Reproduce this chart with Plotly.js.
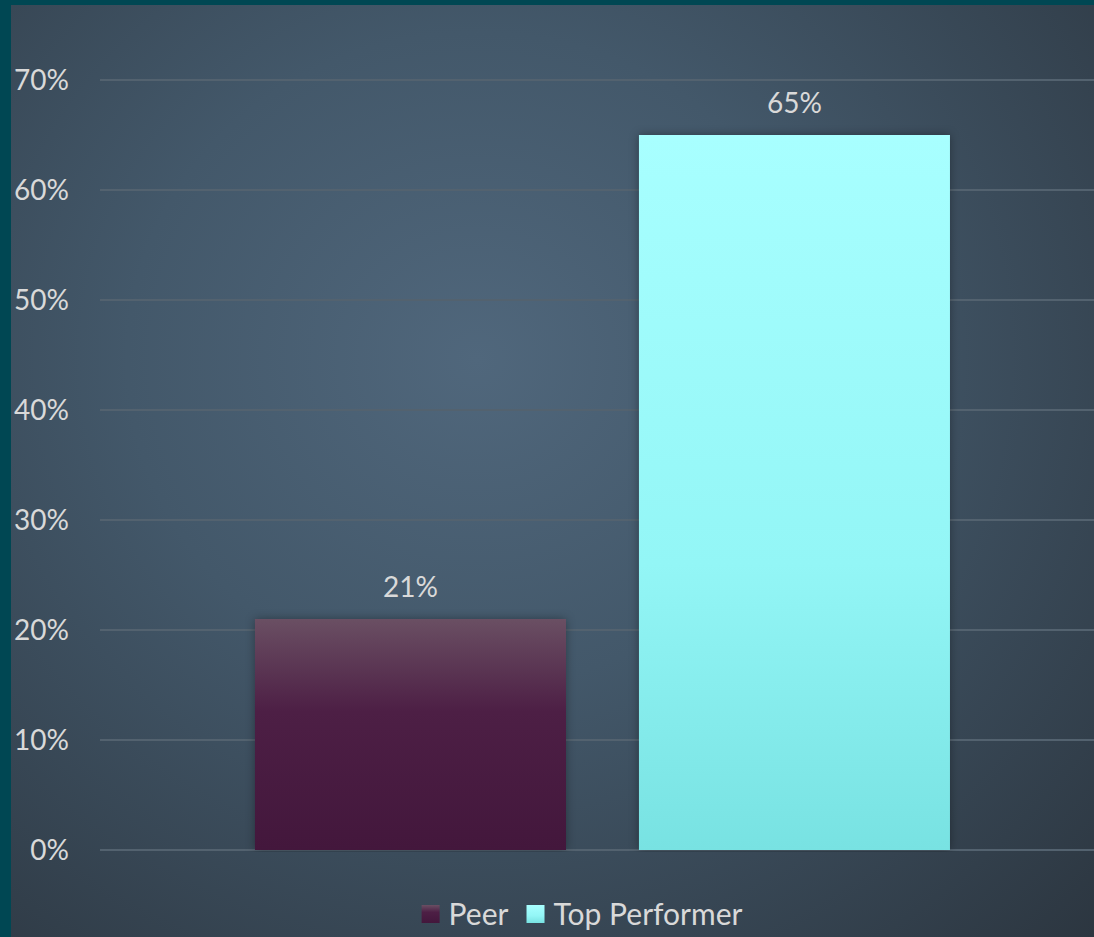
<!DOCTYPE html>
<html>
<head>
<meta charset="utf-8">
<script src="https://cdn.plot.ly/plotly-3.0.1.min.js"></script>
<style>
  html, body { margin: 0; padding: 0; width: 1094px; height: 937px; overflow: hidden; background: #004753; }
  #bg { position: absolute; left: 11px; top: 5px; width: 1083px; height: 932px;
        background: radial-gradient(farthest-corner at 43% 38%, #50677c 0%, #43586a 40%, #2c3640 100%); }
  #chart { position: absolute; left: 0; top: 0; width: 1094px; height: 960px; }
  .barlayer .point path { filter: drop-shadow(0px 0px 5px rgba(0,0,0,0.35)); }
</style>
</head>
<body>
<div id="bg"></div>
<div id="chart"></div>
<script>
const category = [""];
const seriesNames = ["Peer", "Top Performer"];
const peerValues = [0.21];
const topPerformerValues = [0.65];
const yTickValues = [0, 0.1, 0.2, 0.3, 0.4, 0.5, 0.6, 0.7];

const FONT = "Lato, 'Open Sans', sans-serif";
const TXT = "#d9d9d9";

const traces = [
  { type: "bar", name: seriesNames[0], x: category, y: peerValues,
    marker: { color: "#4a1d42" },
    texttemplate: "%{y:.0%}", textposition: "outside",
    textfont: { family: FONT, size: 28, color: TXT }, cliponaxis: false, hoverinfo: "none" },
  { type: "bar", name: seriesNames[1], x: category, y: topPerformerValues,
    marker: { color: "#93f7f7" },
    texttemplate: "%{y:.0%}", textposition: "outside",
    textfont: { family: FONT, size: 28, color: TXT }, cliponaxis: false, hoverinfo: "none" }
];

const layout = {
  width: 1094, height: 960,
  margin: { l: 100, r: 0, t: 78, b: 108 },
  paper_bgcolor: "rgba(0,0,0,0)", plot_bgcolor: "rgba(0,0,0,0)",
  barmode: "group", bargap: 0.2274, bargroupgap: 0.19,
  showlegend: true,
  legend: { orientation: "h", x: 0.481, xanchor: "center", y: -0.0788, yanchor: "middle",
            font: { family: FONT, size: 30, color: TXT }, bgcolor: "rgba(0,0,0,0)" },
  xaxis: { type: "category", range: [-0.5055, 0.4945], showgrid: false, zeroline: false,
           showline: false, showticklabels: false, fixedrange: true },
  yaxis: { range: [-0.0018, 0.7018], tickvals: yTickValues, tickformat: ".0%",
           showgrid: true, gridcolor: "#53626f", gridwidth: 2, zeroline: false, showline: false,
           ticklabelstandoff: 30,
           tickfont: { family: FONT, size: 28, color: TXT }, fixedrange: true }
};

function addGradients() {
  const gd = document.getElementById("chart");
  const svg = gd.querySelector("svg.main-svg");
  const ns = "http://www.w3.org/2000/svg";
  let defs = svg.querySelector("defs");
  if (!defs) { defs = document.createElementNS(ns, "defs"); svg.insertBefore(defs, svg.firstChild); }
  const grads = {
    gPeer: [["0%", "#6a4f63"], ["40%", "#4d1f45"], ["100%", "#43173c"]],
    gTop: [["0%", "#a8ffff"], ["60%", "#93f6f6"], ["100%", "#78e2e2"]]
  };
  Object.keys(grads).forEach(id => {
    if (document.getElementById(id)) return;
    const lg = document.createElementNS(ns, "linearGradient");
    lg.setAttribute("id", id); lg.setAttribute("x1", "0"); lg.setAttribute("y1", "0");
    lg.setAttribute("x2", "0"); lg.setAttribute("y2", "1");
    grads[id].forEach(s => {
      const st = document.createElementNS(ns, "stop");
      st.setAttribute("offset", s[0]); st.setAttribute("stop-color", s[1]);
      lg.appendChild(st);
    });
    defs.appendChild(lg);
  });
  const ids = ["gPeer", "gTop"];
  gd.querySelectorAll(".barlayer .trace").forEach((t, i) => {
    t.querySelectorAll(".point path").forEach(p => { p.style.fill = "url(#" + ids[i] + ")"; });
    t.querySelectorAll("text").forEach(tx => { tx.setAttribute("transform", (tx.getAttribute("transform") || "") + " translate(0,-13)"); });
  });
  gd.querySelectorAll(".legend .traces").forEach((t, i) => {
    t.querySelectorAll(".legendpoints path").forEach(p => {
      p.style.fill = "url(#" + ids[i] + ")";
      p.setAttribute("d", "M-7,10H11V-8H-7Z");
      p.style.stroke = "none";
    });
  });
}

Plotly.newPlot("chart", traces, layout, { displayModeBar: false, staticPlot: true }).then(addGradients);
</script>
</body>
</html>
